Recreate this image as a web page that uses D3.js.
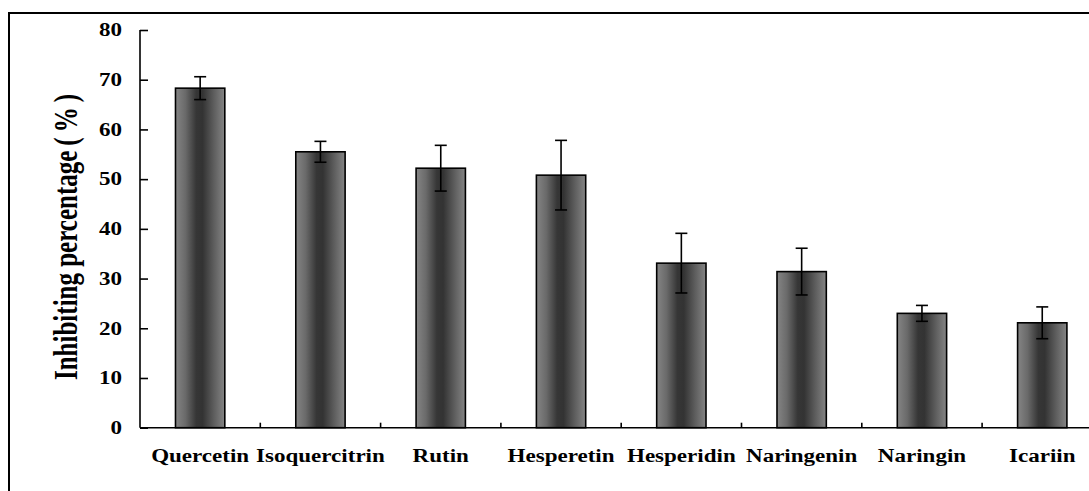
<!DOCTYPE html>
<html>
<head>
<meta charset="utf-8">
<script src="https://cdn.jsdelivr.net/npm/d3@7"></script>
<style>
  html, body { margin: 0; padding: 0; background: #fff; }
  svg { display: block; }
  text { font-family: "Liberation Serif", "Times New Roman", serif; font-weight: bold; fill: #000; }
</style>
</head>
<body>
<svg id="chart" width="1089" height="491"></svg>
<script>
const categories = ["Quercetin", "Isoquercitrin", "Rutin", "Hesperetin", "Hesperidin", "Naringenin", "Naringin", "Icariin"];
const values = [68.3, 55.5, 52.2, 50.8, 33.1, 31.4, 23.0, 21.1];
const errors = [2.3, 2.1, 4.6, 7.0, 6.0, 4.7, 1.6, 3.2];
const yTicks = [0, 10, 20, 30, 40, 50, 60, 70, 80];
const yTitle = "Inhibiting percentage\u2009(\u2009%\u2009)";

const svg = d3.select("#chart");
const left = 140, axisY = 427.7, topY = 30;
const stretch = 1.28;

// outer frame (extends beyond the visible area)
svg.append("rect").attr("x", 9).attr("y", 13).attr("width", 1200).attr("height", 600)
  .attr("fill", "none").attr("stroke", "#000").attr("stroke-width", 2);

const x = d3.scaleBand().domain(categories).range([left, left + 120.3 * categories.length])
  .paddingInner(0.59).paddingOuter(0.295);
const y = d3.scaleLinear().domain([0, 80]).range([axisY, topY]);

// gradient
const defs = svg.append("defs");
const grad = defs.append("linearGradient").attr("id", "barGrad").attr("x1", "0").attr("x2", "1").attr("y1", "0").attr("y2", "0");
[[0, "#858585"], [0.2, "#6a6a6a"], [0.42, "#363636"], [0.55, "#333333"], [0.78, "#5e5e5e"], [1, "#858585"]].forEach(([o, c]) =>
  grad.append("stop").attr("offset", o).attr("stop-color", c));

// bars
svg.append("g").selectAll("rect").data(categories).join("rect")
  .attr("x", d => x(d))
  .attr("y", (d, i) => y(values[i]))
  .attr("width", x.bandwidth())
  .attr("height", (d, i) => y(0) - y(values[i]))
  .attr("fill", "url(#barGrad)")
  .attr("stroke", "#000").attr("stroke-width", 1.6);

// error bars
const eb = svg.append("g").attr("stroke", "#000").attr("stroke-width", 1.6);
categories.forEach((c, i) => {
  const cx = x(c) + x.bandwidth() / 2;
  const hi = y(values[i] + errors[i]), lo = y(values[i] - errors[i]);
  eb.append("line").attr("x1", cx).attr("x2", cx).attr("y1", hi).attr("y2", lo);
  eb.append("line").attr("x1", cx - 6).attr("x2", cx + 6).attr("y1", hi).attr("y2", hi);
  eb.append("line").attr("x1", cx - 6).attr("x2", cx + 6).attr("y1", lo).attr("y2", lo);
});

// y axis
const yAxis = svg.append("g").attr("transform", `translate(${left},0)`)
  .call(d3.axisRight(y).tickValues(yTicks).tickSize(8).tickFormat(""));
yAxis.selectAll("path, line").attr("stroke", "#000").attr("stroke-width", 1.6);
yAxis.select(".domain").attr("d", `M0,${topY}V${axisY}`);

// y tick labels
const yl = svg.append("g");
yTicks.forEach(t => {
  yl.append("text").attr("transform", `translate(122,${y(t)}) scale(${stretch},1)`)
    .attr("text-anchor", "end").attr("dy", "0.35em").attr("font-size", 18).text(t);
});

// x axis
const xEnd = left + 120.3 * categories.length;
svg.append("line").attr("x1", left).attr("x2", xEnd).attr("y1", axisY).attr("y2", axisY)
  .attr("stroke", "#000").attr("stroke-width", 1.6);
const boundaries = d3.range(1, categories.length + 1).map(i => left + x.step() * i);
svg.append("g").selectAll("line").data(boundaries).join("line")
  .attr("x1", d => d).attr("x2", d => d).attr("y1", axisY).attr("y2", axisY - 5)
  .attr("stroke", "#000").attr("stroke-width", 1.6);

// x labels
svg.append("g").selectAll("text").data(categories).join("text")
  .attr("transform", d => `translate(${x(d) + x.bandwidth() / 2},462) scale(${stretch},1)`)
  .attr("text-anchor", "middle").attr("font-size", 18).text(d => d);

// y title
svg.append("text").attr("transform", `translate(77,237) rotate(-90) scale(1,1.32)`)
  .attr("text-anchor", "middle").attr("font-size", 25).text(yTitle);
</script>
</body>
</html>
